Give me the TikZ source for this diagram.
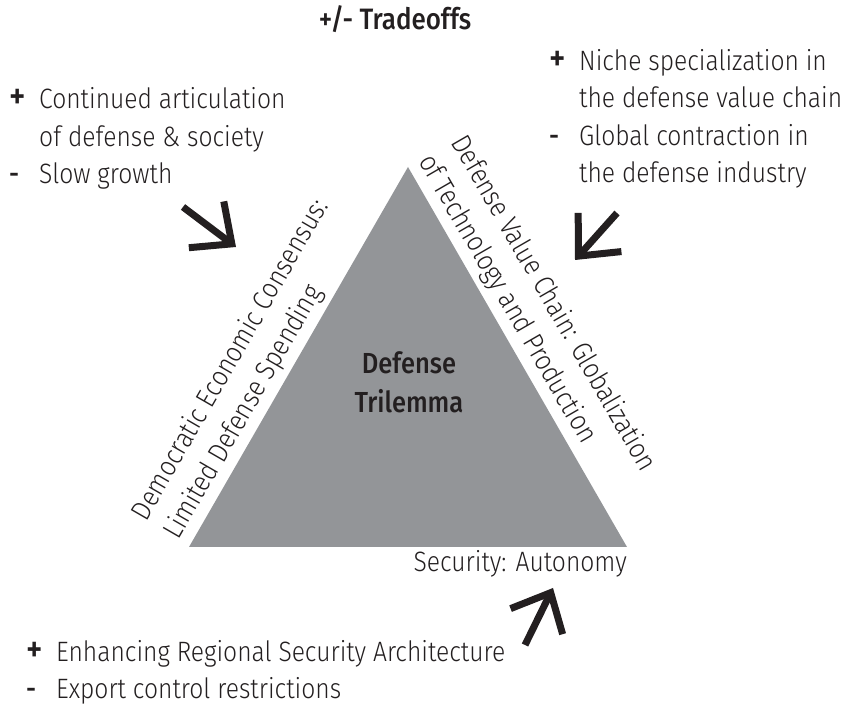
\documentclass[tikz,border=0pt]{standalone}
\usepackage{fontspec}
\setmainfont{Fira Sans}[UprightFont=* Light, BoldFont=* Medium, FakeStretch=0.88]
\usetikzlibrary{arrows.meta,calc}

\definecolor{ink}{HTML}{231F20}
\definecolor{trigray}{HTML}{939598}

% hanging signs for the tradeoff lists
\newcommand{\pro}{\makebox[30pt][l]{\fontsize{36}{37.5}\selectfont\bfseries+}}
\newcommand{\con}{\makebox[30pt][l]{\bfseries-}}
\newcommand{\cont}{\hspace*{30pt}}

\begin{document}
\begin{tikzpicture}[x=1pt, y=1pt, font=\fontsize{28}{37.5}\selectfont, text=ink, line join=miter,
		list/.style={anchor=base west, align=left, inner sep=0pt},
		edgelabel/.style={anchor=south west, align=left, inner sep=0pt},
		pushtip/.style={draw=ink, line width=7pt, -{Straight Barb[length=32pt, width=58pt]}}]
	\useasboundingbox (0,0) rectangle (843,711);
	
	% Corners of the trilemma
	\coordinate (apex) at (408,544);
	\coordinate (lcorner) at (189,164);
	\coordinate (rcorner) at (627,164);
	
	\fill[trigray] (apex) -- (lcorner) -- (rcorner) -- cycle;
	\node[font=\fontsize{29}{39}\selectfont\bfseries, align=center, inner sep=0pt] (core) at (409,329) {Defense\\Trilemma};
	
	% Labels along the sides
	\node[edgelabel, rotate=60] (consensus) at ($(lcorner)+(150:6)$) {Democratic Economic Consensus:\\Limited Defense Spending};
	\node[edgelabel, rotate=-60] (chain) at ($(apex)+(30:6)$) {Defense Value Chain: Globalization\\of Technology and Production};
	\node[anchor=base east, inner sep=0pt] (security) at (627,139) {Security: Autonomy};
	
	% Tradeoffs (anchored on the baseline of the last line)
	\node[font=\fontsize{29.5}{37.5}\selectfont\bfseries, anchor=base] (title) at (395,681) {+/- Tradeoffs};
	\node[list] (lpros) at (9,527) {\pro Continued articulation\\\cont of defense \& society\\\con Slow growth};
	\node[list] (rpros) at (549,528) {\pro Niche specialization in\\\cont the defense value chain\\\con Global contraction in\\\cont the defense industry};
	\node[list] (bpros) at (26,12) {\pro Enhancing Regional Security Architecture\\\con Export control restrictions};
	
	% Arrows pushing on the sides
	\coordinate (ltail) at (183,504);
	\coordinate (ltip) at (236,464);
	\coordinate (rtail) at (617,498);
	\coordinate (rtip) at (575,451);
	\coordinate (btail) at (525,66);
	\coordinate (btip) at (553,123);
	\foreach \s in {l,r,b}
		\draw[pushtip] (\s tail) -- (\s tip);
\end{tikzpicture}
\end{document}
